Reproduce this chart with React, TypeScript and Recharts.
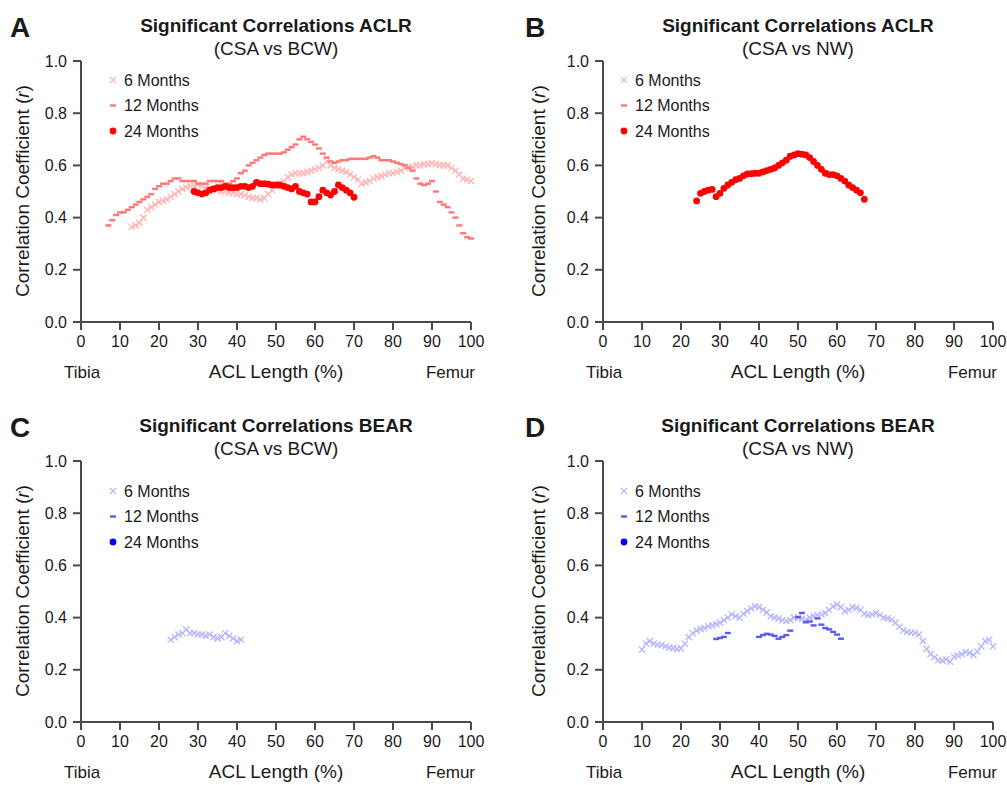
import React from 'react'
import { ScatterChart, Scatter, XAxis, YAxis } from 'recharts'

type Pt = [number, number]

// ACL length (%) vs correlation r
const aclrBcw6: Pt[] = [
  [13, 0.365], [14, 0.37], [15, 0.38], [16, 0.4], [17, 0.43], [18, 0.44], [19, 0.45], [20, 0.46],
  [21, 0.465], [22, 0.47], [23, 0.48], [24, 0.49], [25, 0.5], [26, 0.51], [27, 0.515], [28, 0.52],
  [29, 0.52], [30, 0.525], [31, 0.52], [32, 0.515], [33, 0.51], [34, 0.51], [35, 0.505], [36, 0.5],
  [37, 0.5], [38, 0.495], [39, 0.495], [40, 0.49], [41, 0.49], [42, 0.485], [43, 0.48], [44, 0.475],
  [45, 0.475], [46, 0.47], [47, 0.475], [48, 0.49], [49, 0.505], [50, 0.52], [51, 0.53], [52, 0.54],
  [53, 0.555], [54, 0.565], [55, 0.57], [56, 0.57], [57, 0.57], [58, 0.575], [59, 0.58], [60, 0.585],
  [61, 0.59], [62, 0.6], [63, 0.615], [64, 0.6], [65, 0.59], [66, 0.585], [67, 0.58], [68, 0.575],
  [69, 0.565], [70, 0.555], [71, 0.545], [72, 0.53], [73, 0.535], [74, 0.54], [75, 0.55], [76, 0.555],
  [77, 0.56], [78, 0.565], [79, 0.57], [80, 0.57], [81, 0.575], [82, 0.58], [83, 0.59], [84, 0.595],
  [85, 0.595], [86, 0.6], [87, 0.6], [88, 0.605], [89, 0.605], [90, 0.608], [91, 0.605], [92, 0.6],
  [93, 0.6], [94, 0.6], [95, 0.59], [96, 0.58], [97, 0.565], [98, 0.55], [99, 0.545], [100, 0.54],
]

const aclrBcw12: Pt[] = [
  [7, 0.37], [8, 0.39], [9, 0.41], [10, 0.42], [11, 0.42], [12, 0.43], [13, 0.44], [14, 0.45],
  [15, 0.46], [16, 0.47], [17, 0.48], [18, 0.49], [19, 0.51], [20, 0.52], [21, 0.53], [22, 0.53],
  [23, 0.54], [24, 0.55], [25, 0.55], [26, 0.54], [27, 0.54], [28, 0.54], [29, 0.54], [30, 0.53],
  [31, 0.53], [32, 0.53], [33, 0.54], [34, 0.54], [35, 0.54], [36, 0.54], [37, 0.53], [38, 0.53],
  [39, 0.54], [40, 0.55], [41, 0.57], [42, 0.58], [43, 0.6], [44, 0.61], [45, 0.62], [46, 0.63],
  [47, 0.64], [48, 0.645], [49, 0.645], [50, 0.645], [51, 0.645], [52, 0.65], [53, 0.66], [54, 0.67],
  [55, 0.68], [56, 0.7], [57, 0.71], [58, 0.7], [59, 0.69], [60, 0.68], [61, 0.665], [62, 0.645],
  [63, 0.63], [64, 0.615], [65, 0.61], [66, 0.615], [67, 0.62], [68, 0.62], [69, 0.625], [70, 0.625],
  [71, 0.625], [72, 0.625], [73, 0.625], [74, 0.63], [75, 0.635], [76, 0.63], [77, 0.62], [78, 0.62],
  [79, 0.62], [80, 0.615], [81, 0.61], [82, 0.605], [83, 0.6], [84, 0.59], [85, 0.58], [86, 0.55],
  [87, 0.53], [88, 0.525], [89, 0.53], [90, 0.54], [91, 0.5], [92, 0.46], [93, 0.45], [94, 0.44],
  [95, 0.42], [96, 0.4], [97, 0.37], [98, 0.34], [99, 0.325], [100, 0.32],
]

const aclrBcw24: Pt[] = [
  [29, 0.5], [30, 0.495], [31, 0.49], [32, 0.495], [33, 0.505], [34, 0.51], [35, 0.515], [36, 0.515],
  [37, 0.52], [38, 0.515], [39, 0.515], [40, 0.515], [41, 0.52], [42, 0.52], [43, 0.515], [44, 0.52],
  [45, 0.535], [46, 0.53], [47, 0.53], [48, 0.528], [49, 0.525], [50, 0.525], [51, 0.525], [52, 0.52],
  [53, 0.515], [54, 0.51], [55, 0.52], [56, 0.5], [57, 0.495], [58, 0.49], [59, 0.46], [60, 0.46],
  [61, 0.48], [62, 0.505], [63, 0.495], [64, 0.487], [65, 0.5], [66, 0.525], [67, 0.515], [68, 0.505],
  [69, 0.495], [70, 0.478],
]

const aclrNw24: Pt[] = [
  [24, 0.464], [25, 0.493], [26, 0.5], [27, 0.505], [28, 0.508], [29, 0.48], [30, 0.493], [31, 0.512],
  [32, 0.525], [33, 0.535], [34, 0.545], [35, 0.55], [36, 0.56], [37, 0.567], [38, 0.568], [39, 0.57],
  [40, 0.57], [41, 0.575], [42, 0.58], [43, 0.585], [44, 0.59], [45, 0.6], [46, 0.61], [47, 0.62],
  [48, 0.635], [49, 0.64], [50, 0.645], [51, 0.643], [52, 0.64], [53, 0.63], [54, 0.615], [55, 0.6],
  [56, 0.585], [57, 0.57], [58, 0.565], [59, 0.565], [60, 0.56], [61, 0.55], [62, 0.54], [63, 0.525],
  [64, 0.515], [65, 0.505], [66, 0.495], [67, 0.47],
]

const bearBcw6: Pt[] = [
  [23, 0.315], [24, 0.325], [25, 0.335], [26, 0.34], [27, 0.354], [28, 0.34], [29, 0.34], [30, 0.335],
  [31, 0.335], [32, 0.33], [33, 0.335], [34, 0.325], [35, 0.32], [36, 0.325], [37, 0.34], [38, 0.33],
  [39, 0.32], [40, 0.31], [41, 0.315],
]

const bearNw6: Pt[] = [
  [10, 0.277], [11, 0.3], [12, 0.31], [13, 0.3], [14, 0.296], [15, 0.295], [16, 0.29], [17, 0.285],
  [18, 0.283], [19, 0.28], [20, 0.282], [21, 0.3], [22, 0.325], [23, 0.34], [24, 0.35], [25, 0.356],
  [26, 0.36], [27, 0.367], [28, 0.37], [29, 0.375], [30, 0.38], [31, 0.39], [32, 0.4], [33, 0.412],
  [34, 0.405], [35, 0.4], [36, 0.415], [37, 0.425], [38, 0.435], [39, 0.443], [40, 0.44], [41, 0.43],
  [42, 0.42], [43, 0.405], [44, 0.4], [45, 0.397], [46, 0.39], [47, 0.387], [48, 0.39], [49, 0.4],
  [50, 0.4], [51, 0.395], [52, 0.392], [53, 0.4], [54, 0.405], [55, 0.41], [56, 0.412], [57, 0.417],
  [58, 0.43], [59, 0.443], [60, 0.45], [61, 0.44], [62, 0.425], [63, 0.43], [64, 0.44], [65, 0.437],
  [66, 0.43], [67, 0.415], [68, 0.41], [69, 0.412], [70, 0.417], [71, 0.41], [72, 0.4], [73, 0.397],
  [74, 0.392], [75, 0.38], [76, 0.365], [77, 0.351], [78, 0.345], [79, 0.342], [80, 0.341], [81, 0.335],
  [82, 0.31], [83, 0.28], [84, 0.26], [85, 0.248], [86, 0.237], [87, 0.235], [88, 0.24], [89, 0.231],
  [90, 0.25], [91, 0.255], [92, 0.26], [93, 0.268], [94, 0.265], [95, 0.257], [96, 0.27], [97, 0.29],
  [98, 0.31], [99, 0.315], [100, 0.29],
]

const bearNw12: Pt[] = [
  [29, 0.318], [30, 0.322], [31, 0.326], [32, 0.341],
  [40, 0.326], [41, 0.333], [42, 0.338], [43, 0.335], [44, 0.33], [45, 0.319], [46, 0.326], [47, 0.333],
  [48, 0.35], [50, 0.402], [51, 0.418], [52, 0.382], [53, 0.385], [54, 0.37], [55, 0.397], [56, 0.373],
  [57, 0.36], [58, 0.355], [59, 0.345], [60, 0.335], [61, 0.319],
]

const xTicks = [0, 10, 20, 30, 40, 50, 60, 70, 80, 90, 100]
const yTicks = [0, 0.2, 0.4, 0.6, 0.8, 1.0]
const legendLabels = ['6 Months', '12 Months', '24 Months']

const reds = ['#ffb3b3', '#ff7878', '#ff0000']
const blues = ['#b5b5ff', '#5a5aff', '#0000ff']

const FONT = '"Liberation Sans", Arial, Helvetica, sans-serif'
const AXIS = '#4a4a4a'
const TEXT = '#1a1a1a'

function CrossMark({ cx, cy, color }: any) {
  const s = 3.1
  return (
    <g stroke={color} strokeWidth={1.3}>
      <line x1={cx - s} y1={cy - s} x2={cx + s} y2={cy + s} />
      <line x1={cx - s} y1={cy + s} x2={cx + s} y2={cy - s} />
    </g>
  )
}

function DashMark({ cx, cy, color }: any) {
  return <rect x={cx - 3} y={cy - 1.2} width={6} height={2.4} fill={color} />
}

function DotMark({ cx, cy, color }: any) {
  return <circle cx={cx} cy={cy} r={3.4} fill={color} />
}

const marks = [CrossMark, DashMark, DotMark]

const toRows = (pts: Pt[]) => pts.map(([x, r]) => ({ x, r }))

interface PanelProps {
  left: number
  top: number
  width: number
  plotLeft: number
  plotRight: number
  colors: string[]
  series: (Pt[] | null)[]
}

function Panel({ left, top, width, plotLeft, plotRight, colors, series }: PanelProps) {
  const height = 400
  const tickStyle = { fontSize: 16, fill: TEXT, fontFamily: FONT }
  return (
    <div style={{ position: 'absolute', left, top }}>
      <ScatterChart
        width={width}
        height={height}
        margin={{ top: 61, right: width - plotRight, bottom: height - 322 - 30, left: plotLeft - 60 }}
      >
        <XAxis
          type="number"
          dataKey="x"
          domain={[0, 100]}
          ticks={xTicks}
          height={30}
          tickSize={8}
          tickMargin={6}
          tick={tickStyle}
          axisLine={{ stroke: AXIS, strokeWidth: 2 }}
          tickLine={{ stroke: AXIS, strokeWidth: 2 }}
        />
        <YAxis
          type="number"
          dataKey="r"
          domain={[0, 1]}
          ticks={yTicks}
          width={60}
          tickSize={8}
          tickMargin={6}
          tick={tickStyle}
          tickFormatter={(v: number) => v.toFixed(1)}
          axisLine={{ stroke: AXIS, strokeWidth: 2 }}
          tickLine={{ stroke: AXIS, strokeWidth: 2 }}
        />
        {series.map((pts, i) => {
          if (!pts) return null
          const Mark = marks[i]
          return (
            <Scatter
              key={i}
              name={legendLabels[i]}
              data={toRows(pts)}
              isAnimationActive={false}
              shape={(p: any) => <Mark cx={p.cx} cy={p.cy} color={colors[i]} />}
            />
          )
        })}
      </ScatterChart>
    </div>
  )
}

interface TextsProps {
  letter: string
  letterX: number
  title: string
  subtitle: string
  centerX: number
  plotLeft: number
  plotRight: number
  yLabelX: number
  legendX: number
  legendY: number
  colors: string[]
  dy: number
}

function PanelTexts({ letter, letterX, title, subtitle, centerX, plotLeft, plotRight, yLabelX, legendX, legendY, colors, dy }: TextsProps) {
  return (
    <g fontFamily={FONT} fill={TEXT}>
      <text x={letterX} y={37 + dy} fontSize={28} fontWeight="bold">{letter}</text>
      <text x={centerX} y={32 + dy} fontSize={19} fontWeight="bold" textAnchor="middle">{title}</text>
      <text x={centerX} y={55 + dy} fontSize={19} textAnchor="middle">{subtitle}</text>
      <text
        x={yLabelX}
        y={191 + dy}
        fontSize={19}
        textAnchor="middle"
        transform={`rotate(-90 ${yLabelX} ${191 + dy})`}
      >
        Correlation Coefficient (<tspan fontStyle="italic">r</tspan>)
      </text>
      <text x={plotLeft + 1} y={378 + dy} fontSize={17} textAnchor="middle">Tibia</text>
      <text x={centerX} y={378 + dy} fontSize={19} textAnchor="middle">ACL Length (%)</text>
      <text x={plotRight + 4} y={378 + dy} fontSize={17} textAnchor="end">Femur</text>
      {legendLabels.map((label, i) => {
        const Mark = marks[i]
        const cy = legendY + dy + i * 25.5
        return (
          <g key={label}>
            <Mark cx={legendX} cy={cy} color={colors[i]} />
            <text x={legendX + 11} y={cy + 5.7} fontSize={16}>{label}</text>
          </g>
        )
      })}
    </g>
  )
}

export default function App() {
  return (
    <div style={{ position: 'absolute', left: 0, top: 0, width: 1007, height: 785, background: '#fff', overflow: 'hidden' }}>
      <Panel left={0} top={0} width={503} plotLeft={81} plotRight={471} colors={reds} series={[aclrBcw6, aclrBcw12, aclrBcw24]} />
      <Panel left={503} top={0} width={504} plotLeft={100} plotRight={490} colors={reds} series={[null, null, aclrNw24]} />
      <Panel left={0} top={400} width={503} plotLeft={81} plotRight={471} colors={blues} series={[bearBcw6, null, null]} />
      <Panel left={503} top={400} width={504} plotLeft={100} plotRight={490} colors={blues} series={[bearNw6, bearNw12, null]} />
      <svg width={1007} height={785} style={{ position: 'absolute', left: 0, top: 0, pointerEvents: 'none' }}>
        <PanelTexts letter="A" letterX={10} title="Significant Correlations ACLR" subtitle="(CSA vs BCW)" centerX={276} plotLeft={81} plotRight={471} yLabelX={29} legendX={113} legendY={80} colors={reds} dy={0} />
        <PanelTexts letter="B" letterX={525} title="Significant Correlations ACLR" subtitle="(CSA vs NW)" centerX={798} plotLeft={603} plotRight={993} yLabelX={545} legendX={624} legendY={80} colors={reds} dy={0} />
        <PanelTexts letter="C" letterX={10} title="Significant Correlations BEAR" subtitle="(CSA vs BCW)" centerX={276} plotLeft={81} plotRight={471} yLabelX={29} legendX={113} legendY={91} colors={blues} dy={400} />
        <PanelTexts letter="D" letterX={525} title="Significant Correlations BEAR" subtitle="(CSA vs NW)" centerX={798} plotLeft={603} plotRight={993} yLabelX={545} legendX={624} legendY={91} colors={blues} dy={400} />
      </svg>
    </div>
  )
}
